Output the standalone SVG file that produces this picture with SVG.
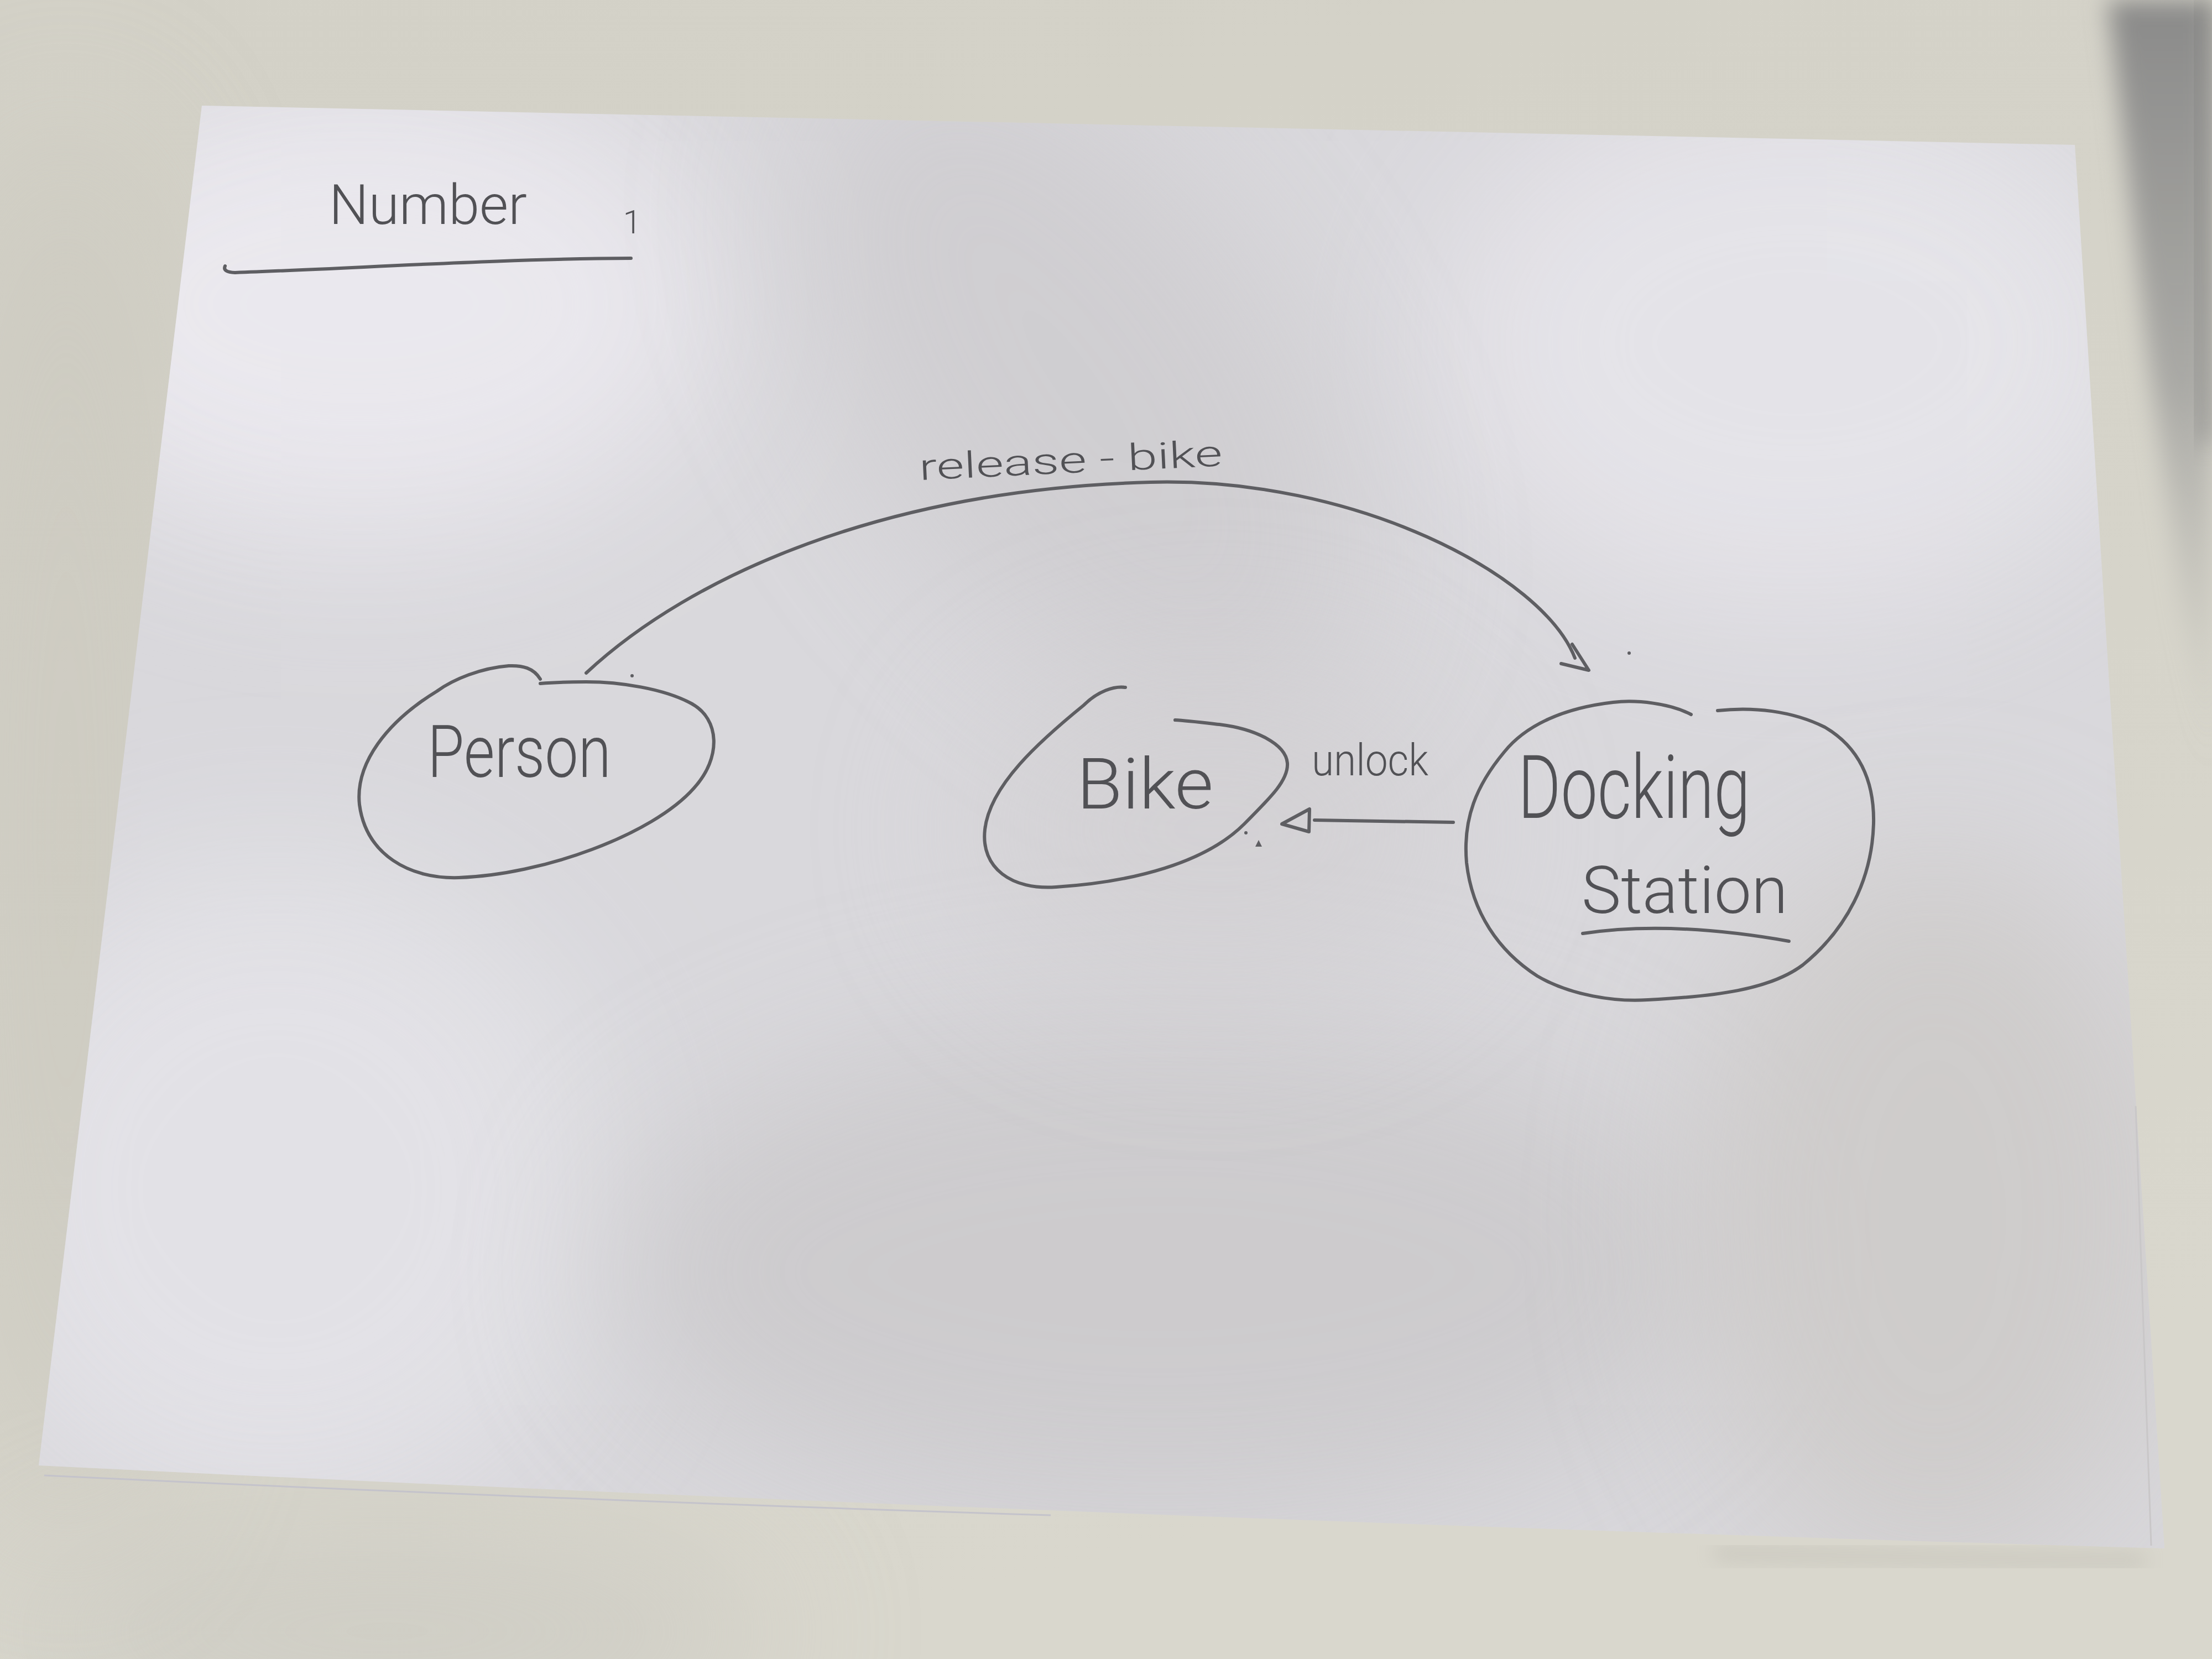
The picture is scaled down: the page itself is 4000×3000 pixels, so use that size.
<svg xmlns="http://www.w3.org/2000/svg" width="4000" height="3000" viewBox="0 0 4000 3000">
<defs>
  <style>
    .pencil{fill:none;stroke:#5e5e62;stroke-width:6;stroke-linecap:round;stroke-linejoin:round}
    .hand{font-family:Roboto,"Liberation Sans","DejaVu Sans",sans-serif;font-weight:300;fill:#515155}
  </style>
  <linearGradient id="tableGrad" x1="0" y1="0" x2="0.3" y2="1">
    <stop offset="0" stop-color="#d3d1c7"/>
    <stop offset="0.6" stop-color="#d6d4ca"/>
    <stop offset="1" stop-color="#d9d7cd"/>
  </linearGradient>
  <linearGradient id="stripGrad" x1="0" y1="0" x2="0" y2="1">
    <stop offset="0" stop-color="#8a8a89" stop-opacity="1"/>
    <stop offset="0.5" stop-color="#9c9c9a" stop-opacity="0.75"/>
    <stop offset="1" stop-color="#c0bfb8" stop-opacity="0"/>
  </linearGradient>
  <filter id="bigBlur" x="-50%" y="-50%" width="200%" height="200%"><feGaussianBlur stdDeviation="140"/></filter>
  <filter id="midBlur" x="-50%" y="-50%" width="200%" height="200%"><feGaussianBlur stdDeviation="22"/></filter>
  <filter id="smallBlur" x="-20%" y="-100%" width="140%" height="300%"><feGaussianBlur stdDeviation="18"/></filter>
  <clipPath id="paperClip">
    <path d="M 365 191 L 3752 262 L 3914 2800 Q 2000 2745 70 2650 Z"/>
  </clipPath>
</defs>

<!-- table / background -->
<g id="background">
  <rect width="4000" height="3000" fill="url(#tableGrad)"/>
  <ellipse cx="120" cy="1500" rx="260" ry="1300" fill="#c7c5bb" opacity="0.5" filter="url(#bigBlur)"/>
  <ellipse cx="700" cy="2950" rx="700" ry="200" fill="#c6c5be" opacity="0.5" filter="url(#bigBlur)"/>
  <polygon points="3812,0 4000,0 4000,1400 3945,1100 3885,650" fill="url(#stripGrad)" filter="url(#midBlur)"/>
  <rect x="3978" y="0" width="22" height="800" fill="#6f6f70" opacity="0.6" filter="url(#midBlur)"/>
  <!-- soft shadow under the paper's lower right edge -->
  <path d="M 3100 2808 Q 3500 2818 3880 2822" fill="none" stroke="#a09e96" stroke-width="24" opacity="0.3" filter="url(#smallBlur)"/>
</g>

<!-- paper sheets -->
<g id="paper">
  <path d="M 365 191 L 3752 262 L 3914 2800 Q 2000 2745 70 2650 Z" fill="#d9d8dc"/>
  <g clip-path="url(#paperClip)">
    <ellipse cx="650" cy="550" rx="650" ry="420" fill="#eceaf0" opacity="0.9" filter="url(#bigBlur)"/>
    <ellipse cx="3250" cy="620" rx="650" ry="480" fill="#e7e6eb" opacity="0.85" filter="url(#bigBlur)"/>
    <ellipse cx="500" cy="2150" rx="600" ry="600" fill="#e4e3e8" opacity="0.85" filter="url(#bigBlur)"/>
    <ellipse cx="1950" cy="700" rx="380" ry="700" fill="#cccacd" opacity="0.7" filter="url(#bigBlur)" transform="rotate(-35 1950 700)"/>
    <ellipse cx="2100" cy="2300" rx="1000" ry="450" fill="#c9c7c9" opacity="0.75" filter="url(#bigBlur)"/>
    <ellipse cx="3500" cy="2200" rx="450" ry="650" fill="#cac7c4" opacity="0.7" filter="url(#bigBlur)"/>
    <ellipse cx="2200" cy="1500" rx="450" ry="300" fill="#d0ced0" opacity="0.6" filter="url(#bigBlur)"/>
  </g>
  <path d="M 80 2668 Q 1000 2712 1900 2740" fill="none" stroke="#c4c3cb" stroke-width="3"/>
  <path d="M 3862 2000 L 3890 2795" fill="none" stroke="#c9c7c8" stroke-width="3"/>
</g>

<!-- title -->
<g id="title">
  <text class="hand"><tspan x="595" y="405" font-size="100" textLength="358" lengthAdjust="spacingAndGlyphs">Number</tspan><tspan x="1112" y="422" font-size="60"> 1</tspan></text>
  <path class="pencil" stroke-width="8" d="M 407 481 Q 402 492 425 493 C 650 485 900 468 1141 467"/>
</g>

<!-- nodes -->
<g id="node-person">
  <path class="pencil" d="M 977 1228 C 965 1208 945 1203 920 1204 C 870 1208 820 1228 790 1250 C 700 1305 642 1380 650 1455 C 662 1545 740 1590 830 1587 C 980 1582 1180 1510 1255 1425 C 1305 1370 1302 1300 1250 1272 C 1200 1245 1120 1233 1060 1233 C 1030 1233 1000 1234 977 1236"/>
  <text class="hand" x="773" y="1405" font-size="132" textLength="332" lengthAdjust="spacingAndGlyphs">Person</text>
</g>

<g id="node-bike">
  <path class="pencil" d="M 2035 1243 C 2015 1240 1985 1250 1960 1275 C 1880 1340 1790 1420 1781 1500 C 1773 1570 1830 1610 1910 1604 C 2050 1595 2180 1560 2250 1490 C 2300 1440 2330 1410 2328 1380 C 2325 1345 2270 1318 2205 1310 C 2170 1306 2145 1303 2125 1302"/>
  <text class="hand" x="1947" y="1462" font-size="128" textLength="247" lengthAdjust="spacingAndGlyphs">Bike</text>
</g>

<g id="node-docking-station">
  <path class="pencil" d="M 3058 1292 C 3020 1272 2960 1265 2917 1270 C 2830 1280 2760 1310 2720 1360 C 2670 1420 2645 1480 2652 1560 C 2662 1650 2710 1720 2780 1765 C 2840 1800 2920 1812 2980 1808 C 3100 1802 3200 1790 3260 1745 C 3340 1680 3385 1590 3388 1490 C 3390 1410 3360 1350 3300 1315 C 3240 1285 3170 1278 3106 1285"/>
  <text class="hand"><tspan x="2745" y="1479" font-size="160" textLength="420" lengthAdjust="spacingAndGlyphs">Docking</tspan><tspan x="2860" y="1651" font-size="118" textLength="373" lengthAdjust="spacingAndGlyphs">Station</tspan></text>
  <path class="pencil" d="M 2862 1688 Q 3020 1664 3235 1702"/>
</g>

<!-- connectors -->
<g id="connectors">
  <g id="edge-release-bike">
    <path class="pencil" d="M 1060 1217 C 1250 1040 1600 885 2080 872 C 2450 862 2790 1040 2848 1190"/>
    <path class="pencil" d="M 2843 1165 L 2873 1212 L 2823 1200"/>
    <text class="hand" x="1663" y="868" font-size="66" textLength="549" lengthAdjust="spacingAndGlyphs" transform="rotate(-2.7 1663 868)">release - bike</text>
  </g>
  <g id="edge-unlock">
    <path class="pencil" stroke-width="8" d="M 2628 1487 L 2377 1483"/>
    <path class="pencil" d="M 2318 1490 L 2368 1463 L 2367 1504 Z"/>
    <text class="hand" x="2372" y="1402" font-size="80" textLength="211" lengthAdjust="spacingAndGlyphs">unlock</text>
  </g>
</g>

<!-- stray pencil specks -->
<g id="specks" fill="#5e5e62">
  <circle cx="2253" cy="1506" r="3"/>
  <path d="M 2270 1531 L 2276 1519 L 2282 1531 Z"/>
  <circle cx="1143" cy="1222" r="3"/>
  <circle cx="2946" cy="1181" r="3"/>
</g>
</svg>
